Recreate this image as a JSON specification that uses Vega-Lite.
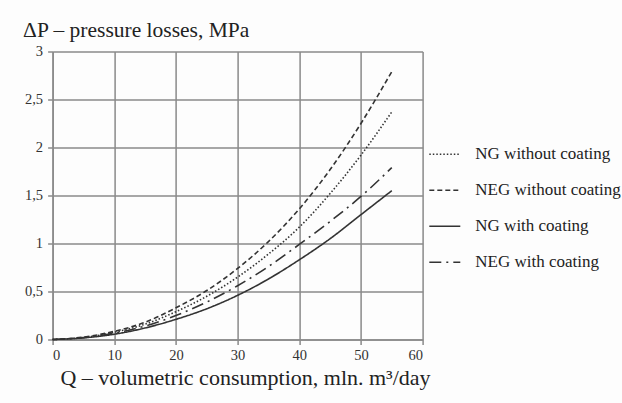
{
  "$schema": "https://vega.github.io/schema/vega-lite/v6.json",
  "width": 370,
  "height": 288,
  "autosize": "none",
  "padding": {"left": 52.6, "top": 51.5, "right": 199.4, "bottom": 63.5},
  "background": "#fdfdfd",
  "datasets": {
    "curves": [
      {"Q": 0, "dP": 0, "series": "NG without coating"},
      {"Q": 5, "dP": 0.02, "series": "NG without coating"},
      {"Q": 10, "dP": 0.075, "series": "NG without coating"},
      {"Q": 15, "dP": 0.16, "series": "NG without coating"},
      {"Q": 20, "dP": 0.29, "series": "NG without coating"},
      {"Q": 25, "dP": 0.45, "series": "NG without coating"},
      {"Q": 30, "dP": 0.65, "series": "NG without coating"},
      {"Q": 35, "dP": 0.89, "series": "NG without coating"},
      {"Q": 40, "dP": 1.17, "series": "NG without coating"},
      {"Q": 45, "dP": 1.52, "series": "NG without coating"},
      {"Q": 50, "dP": 1.92, "series": "NG without coating"},
      {"Q": 55, "dP": 2.37, "series": "NG without coating"},
      {"Q": 0, "dP": 0, "series": "NEG without coating"},
      {"Q": 5, "dP": 0.025, "series": "NEG without coating"},
      {"Q": 10, "dP": 0.085, "series": "NEG without coating"},
      {"Q": 15, "dP": 0.18, "series": "NEG without coating"},
      {"Q": 20, "dP": 0.33, "series": "NEG without coating"},
      {"Q": 25, "dP": 0.51, "series": "NEG without coating"},
      {"Q": 30, "dP": 0.74, "series": "NEG without coating"},
      {"Q": 35, "dP": 1.02, "series": "NEG without coating"},
      {"Q": 40, "dP": 1.36, "series": "NEG without coating"},
      {"Q": 45, "dP": 1.77, "series": "NEG without coating"},
      {"Q": 50, "dP": 2.25, "series": "NEG without coating"},
      {"Q": 55, "dP": 2.79, "series": "NEG without coating"},
      {"Q": 0, "dP": 0, "series": "NG with coating"},
      {"Q": 5, "dP": 0.017, "series": "NG with coating"},
      {"Q": 10, "dP": 0.055, "series": "NG with coating"},
      {"Q": 15, "dP": 0.12, "series": "NG with coating"},
      {"Q": 20, "dP": 0.21, "series": "NG with coating"},
      {"Q": 25, "dP": 0.32, "series": "NG with coating"},
      {"Q": 30, "dP": 0.46, "series": "NG with coating"},
      {"Q": 35, "dP": 0.63, "series": "NG with coating"},
      {"Q": 40, "dP": 0.83, "series": "NG with coating"},
      {"Q": 45, "dP": 1.05, "series": "NG with coating"},
      {"Q": 50, "dP": 1.3, "series": "NG with coating"},
      {"Q": 55, "dP": 1.55, "series": "NG with coating"},
      {"Q": 0, "dP": 0, "series": "NEG with coating"},
      {"Q": 5, "dP": 0.02, "series": "NEG with coating"},
      {"Q": 10, "dP": 0.065, "series": "NEG with coating"},
      {"Q": 15, "dP": 0.14, "series": "NEG with coating"},
      {"Q": 20, "dP": 0.25, "series": "NEG with coating"},
      {"Q": 25, "dP": 0.39, "series": "NEG with coating"},
      {"Q": 30, "dP": 0.56, "series": "NEG with coating"},
      {"Q": 35, "dP": 0.76, "series": "NEG with coating"},
      {"Q": 40, "dP": 0.99, "series": "NEG with coating"},
      {"Q": 45, "dP": 1.23, "series": "NEG with coating"},
      {"Q": 50, "dP": 1.49, "series": "NEG with coating"},
      {"Q": 55, "dP": 1.79, "series": "NEG with coating"}
    ]
  },
  "data": {"name": "curves"},
  "mark": {"type": "line", "interpolate": "monotone", "strokeWidth": 1.6, "color": "#333333"},
  "encoding": {
    "x": {
      "field": "Q", "type": "quantitative",
      "scale": {"domain": [0, 60], "nice": false},
      "axis": {
        "values": [0, 10, 20, 30, 40, 50, 60],
        "title": "Q – volumetric consumption, mln. m³/day",
        "titleFontSize": 22, "titleFontWeight": "normal", "titleFont": "Liberation Serif",
        "titleColor": "#222", "titlePadding": 5, "titleX": 192.4,
        "labelFont": "Liberation Serif",
        "labelFontSize": 14.5, "labelPadding": 4
      }
    },
    "y": {
      "field": "dP", "type": "quantitative",
      "scale": {"domain": [0, 3], "nice": false},
      "axis": {
        "values": [0, 0.5, 1, 1.5, 2, 2.5, 3],
        "labelExpr": "replace(toString(datum.value), '.', ',')",
        "title": "ΔP – pressure losses, MPa",
        "titleAngle": 0, "titleAlign": "left", "titleBaseline": "alphabetic",
        "titleX": -30, "titleY": -15,
        "titleFontSize": 21.5, "titleFontWeight": "normal", "titleFont": "Liberation Serif",
        "titleColor": "#222",
        "labelFont": "Liberation Serif",
        "labelFontSize": 14.5, "labelPadding": 5
      }
    },
    "strokeDash": {
      "field": "series", "type": "nominal",
      "scale": {
        "domain": ["NG without coating", "NEG without coating", "NG with coating", "NEG with coating"],
        "range": [[1.5, 2], [5, 3], [1, 0], [12, 5, 2, 5]]
      },
      "legend": {
        "title": null,
        "orient": "none",
        "legendX": 375.7,
        "legendY": 86.3,
        "symbolType": "stroke",
        "symbolSize": 961,
        "symbolStrokeWidth": 1.6,
        "symbolStrokeColor": "#333333",
        "labelFont": "Liberation Serif",
        "labelFontSize": 17,
        "labelColor": "#222",
        "labelOffset": 14,
        "rowPadding": 11,
        "padding": 0,
        "labelLimit": 300
      }
    }
  },
  "config": {
    "view": {"stroke": null},
    "font": "Liberation Serif",
    "axis": {
      "grid": true,
      "gridColor": "#8a8a8a",
      "gridWidth": 1.5,
      "gridOpacity": 1,
      "domainColor": "#8a8a8a",
      "domainWidth": 1.5,
      "tickColor": "#8a8a8a",
      "tickWidth": 1.5,
      "tickSize": 5,
      "labelColor": "#333"
    }
  }
}
